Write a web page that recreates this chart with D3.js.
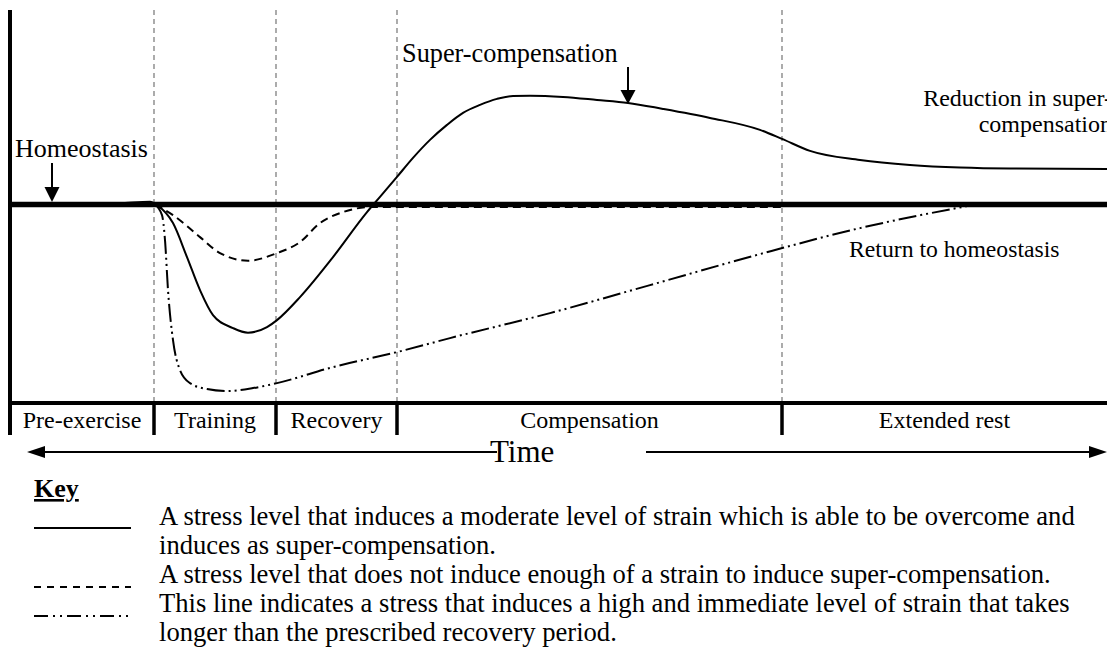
<!DOCTYPE html>
<html>
<head>
<meta charset="utf-8">
<script src="https://cdn.jsdelivr.net/npm/d3@7"></script>
<style>
  html, body { margin: 0; padding: 0; background: #fff; }
  svg { display: block; }
  text { font-family: "Liberation Serif", "Times New Roman", serif; fill: #000; }
</style>
</head>
<body>
<div id="chart"></div>
<script>
// ---------- DATA (time in arbitrary units, level relative to homeostasis) ----------
const phases = ["Pre-exercise", "Training", "Recovery", "Compensation", "Extended rest"];
const phaseBounds = [0, 14.4, 26.6, 38.7, 77.2, 110];
const gridTimes = [14.4, 26.6, 38.7, 77.2];

// Moderate strain -> super-compensation (solid)
const solidTime = [0, 8.7, 11.5, 14.0, 14.7, 16.3, 17.7, 19.0, 20.3, 22.3, 23.8, 25.7, 26.7, 29.0, 32.3, 35.7, 37.0, 38.7, 40.3, 42.0, 43.7, 45.3, 47.0, 48.7, 50.3, 52.0, 55.3, 58.7, 61.8, 65.3, 70.0, 75.0, 77.2, 80.0, 85.0, 90.0, 95.0, 100.0, 110.0];
const solidLevel = [0, 0, 0.08, 0.14, -0.03, -0.93, -2.63, -4.28, -5.53, -6.18, -6.41, -6.13, -5.78, -4.63, -2.63, -0.38, 0.38, 1.38, 2.33, 3.23, 3.98, 4.58, 4.98, 5.28, 5.43, 5.44, 5.38, 5.23, 5.08, 4.78, 4.33, 3.73, 3.28, 2.68, 2.23, 1.98, 1.85, 1.80, 1.78];

// Insufficient strain (dashed)
const dashedTime = [14.5, 16.3, 19.0, 21.0, 23.8, 26.7, 29.0, 31.0, 33.3, 36.0, 38.7, 77.2];
const dashedLevel = [0, -0.53, -1.63, -2.43, -2.81, -2.43, -1.88, -0.93, -0.38, -0.13, -0.13, -0.13];

// High & immediate strain (dash-dot-dot)
const dashDotTime = [14.5, 15.2, 15.5, 15.8, 16.3, 17.0, 18.0, 19.7, 21.7, 24.3, 26.7, 32.3, 38.7, 44.0, 54.0, 64.0, 75.0, 85.0, 95.7];
const dashDotLevel = [0, -0.53, -1.78, -4.28, -6.78, -8.28, -8.93, -9.23, -9.33, -9.18, -8.93, -8.13, -7.38, -6.68, -5.43, -4.03, -2.48, -1.18, -0.08];

// Annotation arrows: [time, fromLevel, toLevel]
const homeostasisArrow = [4.2, 2.08, 0.13];
const superArrow = [61.8, 6.88, 5.03];

const keyLines = [
  "A stress level that induces a moderate level of strain which is able to be overcome and",
  "induces as super-compensation.",
  "A stress level that does not induce enough of a strain to induce super-compensation.",
  "This line indicates a stress that induces a high and immediate level of strain that takes",
  "longer than the prescribed recovery period."
];

// ---------- LAYOUT ----------
const W = 1107, H = 649;
const svg = d3.select("#chart").append("svg").attr("width", W).attr("height", H);
svg.append("rect").attr("width", W).attr("height", H).attr("fill", "#fff");

const x = d3.scaleLinear().domain([0, 110]).range([10, 1110]);
const y = d3.scaleLinear().domain([-10, 10]).range([404.5, 4.5]);

const plotTop = 10, plotBottom = 403, phaseBottom = 435;

// Gray dashed phase grid lines
svg.selectAll("line.grid").data(gridTimes).enter().append("line")
  .attr("x1", d => x(d)).attr("x2", d => x(d))
  .attr("y1", plotTop).attr("y2", plotBottom)
  .attr("stroke", "#a3a3a3").attr("stroke-width", 1.8).attr("stroke-dasharray", "5,4");

// Curves
const line = d3.line().x(d => x(d[0])).y(d => y(d[1])).curve(d3.curveMonotoneX);
const zip = (a, b) => a.map((v, i) => [v, b[i]]);

svg.append("path").datum(zip(dashedTime, dashedLevel)).attr("d", line)
  .attr("fill", "none").attr("stroke", "#000").attr("stroke-width", 2).attr("stroke-dasharray", "8,5");
svg.append("path").datum(zip(dashDotTime, dashDotLevel)).attr("d", line)
  .attr("fill", "none").attr("stroke", "#000").attr("stroke-width", 2).attr("stroke-dasharray", "18,4,2,4,2,4");

// Homeostasis baseline
svg.append("line").attr("x1", x(0)).attr("x2", W).attr("y1", y(0)).attr("y2", y(0))
  .attr("stroke", "#000").attr("stroke-width", 5.5);

svg.append("path").datum(zip(solidTime, solidLevel)).attr("d", line)
  .attr("fill", "none").attr("stroke", "#000").attr("stroke-width", 2);

// Axes
svg.append("line").attr("x1", 10).attr("x2", 10).attr("y1", plotTop).attr("y2", phaseBottom)
  .attr("stroke", "#000").attr("stroke-width", 4);
svg.append("line").attr("x1", 8).attr("x2", W).attr("y1", plotBottom).attr("y2", plotBottom)
  .attr("stroke", "#000").attr("stroke-width", 4);

// Phase separators + labels
svg.selectAll("line.sep").data(gridTimes).enter().append("line")
  .attr("x1", d => x(d)).attr("x2", d => x(d))
  .attr("y1", plotBottom).attr("y2", phaseBottom)
  .attr("stroke", "#000").attr("stroke-width", 3.5);
svg.selectAll("text.phase").data(phases).enter().append("text")
  .attr("x", (d, i) => (x(phaseBounds[i]) + Math.min(W, x(phaseBounds[i + 1]))) / 2)
  .attr("y", 428).attr("text-anchor", "middle").attr("font-size", 24).text(d => d);

// Arrow helper
function arrowDown(cx, y1, y2, headLen, halfW) {
  svg.append("line").attr("x1", cx).attr("x2", cx).attr("y1", y1).attr("y2", y2 - headLen + 1)
    .attr("stroke", "#000").attr("stroke-width", 2);
  svg.append("path").attr("d", `M${cx - halfW},${y2 - headLen}L${cx + halfW},${y2 - headLen}L${cx},${y2}Z`).attr("fill", "#000");
}
arrowDown(x(homeostasisArrow[0]), y(homeostasisArrow[1]), y(homeostasisArrow[2]), 15, 7.5);
arrowDown(x(superArrow[0]), y(superArrow[1]), y(superArrow[2]), 14, 7.5);

// Annotations
svg.append("text").attr("x", 15).attr("y", 157).attr("font-size", 26).text("Homeostasis");
svg.append("text").attr("x", 402).attr("y", 62).attr("font-size", 26.3).text("Super-compensation");
svg.append("text").attr("x", 1112).attr("y", 106).attr("text-anchor", "end").attr("font-size", 24).text("Reduction in super-");
svg.append("text").attr("x", 1112).attr("y", 132).attr("text-anchor", "end").attr("font-size", 24).text("compensation");
svg.append("text").attr("x", 849).attr("y", 257).attr("font-size", 23.7).text("Return to homeostasis");

// Time arrow
const ty = 452;
svg.append("line").attr("x1", 40).attr("x2", 497).attr("y1", ty).attr("y2", ty).attr("stroke", "#000").attr("stroke-width", 2);
svg.append("path").attr("d", `M27,${ty}L45,${ty - 6}L45,${ty + 6}Z`).attr("fill", "#000");
svg.append("line").attr("x1", 646).attr("x2", 1095).attr("y1", ty).attr("y2", ty).attr("stroke", "#000").attr("stroke-width", 2);
svg.append("path").attr("d", `M1107,${ty}L1089,${ty - 6}L1089,${ty + 6}Z`).attr("fill", "#000");
svg.append("text").attr("x", 490).attr("y", 462).attr("font-size", 31).text("Time");

// Key
svg.append("text").attr("x", 34).attr("y", 497).attr("font-size", 26).attr("font-weight", "bold")
  .attr("text-decoration", "underline").text("Key");
const keyY = [525, 554, 583, 612, 641];
svg.selectAll("text.key").data(keyLines).enter().append("text")
  .attr("x", 159).attr("y", (d, i) => keyY[i]).attr("font-size", 26.6).text(d => d);
const samples = [
  { y: keyY[0] + 3, dash: null },
  { y: keyY[2] + 4, dash: "7,6" },
  { y: keyY[3] + 4, dash: "14,5,2,5,2,5" }
];
svg.selectAll("line.sample").data(samples).enter().append("line")
  .attr("x1", 34).attr("x2", 131).attr("y1", d => d.y).attr("y2", d => d.y)
  .attr("stroke", "#000").attr("stroke-width", 2)
  .attr("stroke-dasharray", d => d.dash);
</script>
</body>
</html>
